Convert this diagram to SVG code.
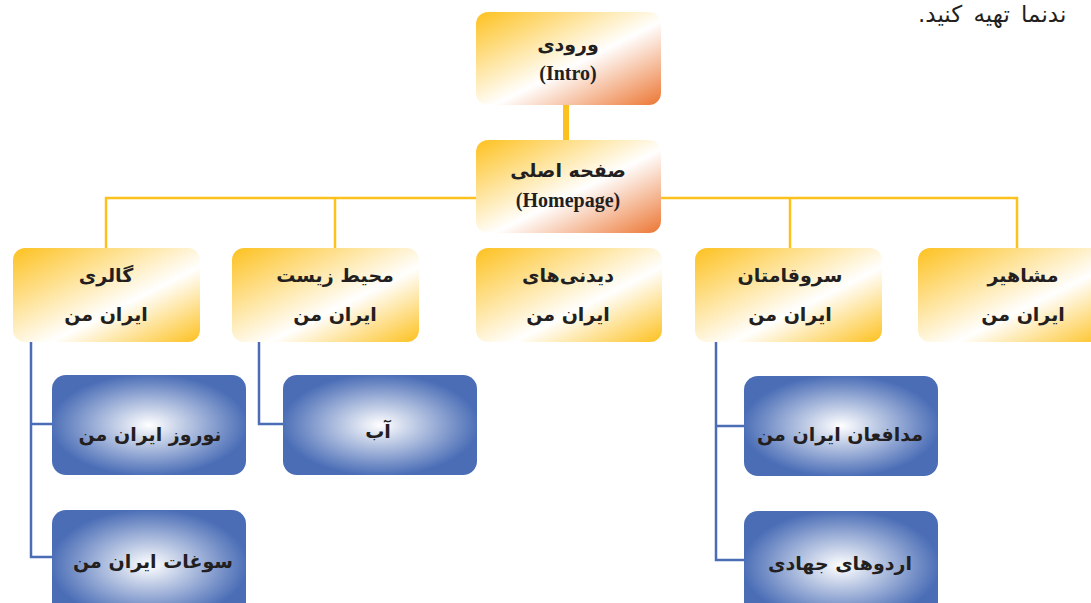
<svg xmlns="http://www.w3.org/2000/svg" width="1091" height="603" viewBox="0 0 1091 603">
<defs>
<linearGradient id="gOrange" x1="0" y1="0" x2="1" y2="1">
<stop offset="0" stop-color="#FDC11F"/>
<stop offset="0.55" stop-color="#FFFFFF"/>
<stop offset="1" stop-color="#EC7633"/>
</linearGradient>
<linearGradient id="gYellow" x1="0" y1="0" x2="1" y2="1">
<stop offset="0" stop-color="#FDC11F"/>
<stop offset="0.6" stop-color="#FFFFFF"/>
<stop offset="1" stop-color="#FDC11F"/>
</linearGradient>
<radialGradient id="gBlue" cx="0.5" cy="0.5" r="0.6">
<stop offset="0" stop-color="#FFFFFF"/>
<stop offset="0.85" stop-color="#4A6DB6"/>
<stop offset="1" stop-color="#4A6DB6"/>
</radialGradient>
<style>
.fa{font-family:"DejaVu Sans","Noto Sans",sans-serif;font-weight:bold;font-size:19px;fill:#231F20;text-anchor:middle;direction:rtl}
.en{font-family:"Liberation Serif",serif;font-weight:bold;font-size:20px;fill:#231F20;text-anchor:middle}
.top{fill:url(#gOrange)}
.mid{fill:url(#gYellow)}
.blue{fill:url(#gBlue)}
.yl{stroke:#FDC11F;fill:none}
.bl{stroke:#4A6DB6;fill:none;stroke-width:2.5}
.note{font-family:"DejaVu Sans",sans-serif;font-size:23px;fill:#231F20;direction:rtl;text-anchor:end;word-spacing:4px}
</style>
</defs>
<rect width="1091" height="603" fill="#FFFFFF"/>
<text class="note" x="918" y="22">ندنما تهیه کنید.</text>
<g id="connectors">
<line class="yl" x1="566" y1="105" x2="566" y2="140" stroke-width="6"/>
<polyline class="yl" points="106,250 106,198 1017,198 1017,250" stroke-width="2.5"/>
<line class="yl" x1="335" y1="198" x2="335" y2="250" stroke-width="2.5"/>
<line class="yl" x1="790" y1="198" x2="790" y2="250" stroke-width="2.5"/>
<polyline class="bl" points="31,342 31,557 52,557"/>
<line class="bl" x1="31" y1="424" x2="52" y2="424"/>
<polyline class="bl" points="259,342 259,424 283,424"/>
<polyline class="bl" points="716,342 716,560 744,560"/>
<line class="bl" x1="716" y1="426" x2="744" y2="426"/>
</g>
<g id="intro">
<rect class="top" x="476" y="12" width="185" height="93" rx="12"/>
<text class="fa" x="568" y="51">ورودی</text>
<text class="en" x="568" y="80">(Intro)</text>
</g>
<g id="homepage">
<rect class="top" x="476" y="140" width="185" height="93" rx="12"/>
<text class="fa" x="568" y="177">صفحه اصلی</text>
<text class="en" x="568" y="207">(Homepage)</text>
</g>
<g id="gallery">
<rect class="mid" x="13" y="248" width="187" height="94" rx="12"/>
<text class="fa" x="106" y="282">گالری</text>
<text class="fa" x="106" y="321">ایران من</text>
</g>
<g id="environment">
<rect class="mid" x="232" y="248" width="187" height="94" rx="12"/>
<text class="fa" x="335" y="282">محیط زیست</text>
<text class="fa" x="335" y="321">ایران من</text>
</g>
<g id="sights">
<rect class="mid" x="476" y="248" width="186" height="94" rx="12"/>
<text class="fa" x="568" y="282">دیدنی‌های</text>
<text class="fa" x="568" y="321">ایران من</text>
</g>
<g id="sarvghamatan">
<rect class="mid" x="695" y="248" width="187" height="94" rx="12"/>
<text class="fa" x="790" y="282">سروقامتان</text>
<text class="fa" x="790" y="321">ایران من</text>
</g>
<g id="mashahir">
<rect class="mid" x="918" y="248" width="190" height="94" rx="12"/>
<text class="fa" x="1023" y="282">مشاهیر</text>
<text class="fa" x="1023" y="321">ایران من</text>
</g>
<g id="nowruz">
<rect class="blue" x="52" y="375" width="194" height="100" rx="14"/>
<text class="fa" x="150" y="441">نوروز ایران من</text>
</g>
<g id="soghat">
<rect class="blue" x="52" y="510" width="194" height="110" rx="14"/>
<text class="fa" x="153" y="568">سوغات ایران من</text>
</g>
<g id="ab">
<rect class="blue" x="283" y="375" width="194" height="100" rx="14"/>
<text class="fa" x="378" y="438">آب</text>
</g>
<g id="modafean">
<rect class="blue" x="744" y="376" width="194" height="100" rx="14"/>
<text class="fa" x="840" y="441">مدافعان ایران من</text>
</g>
<g id="ordu">
<rect class="blue" x="744" y="511" width="194" height="110" rx="14"/>
<text class="fa" x="840" y="570">اردوهای جهادی</text>
</g>
</svg>
